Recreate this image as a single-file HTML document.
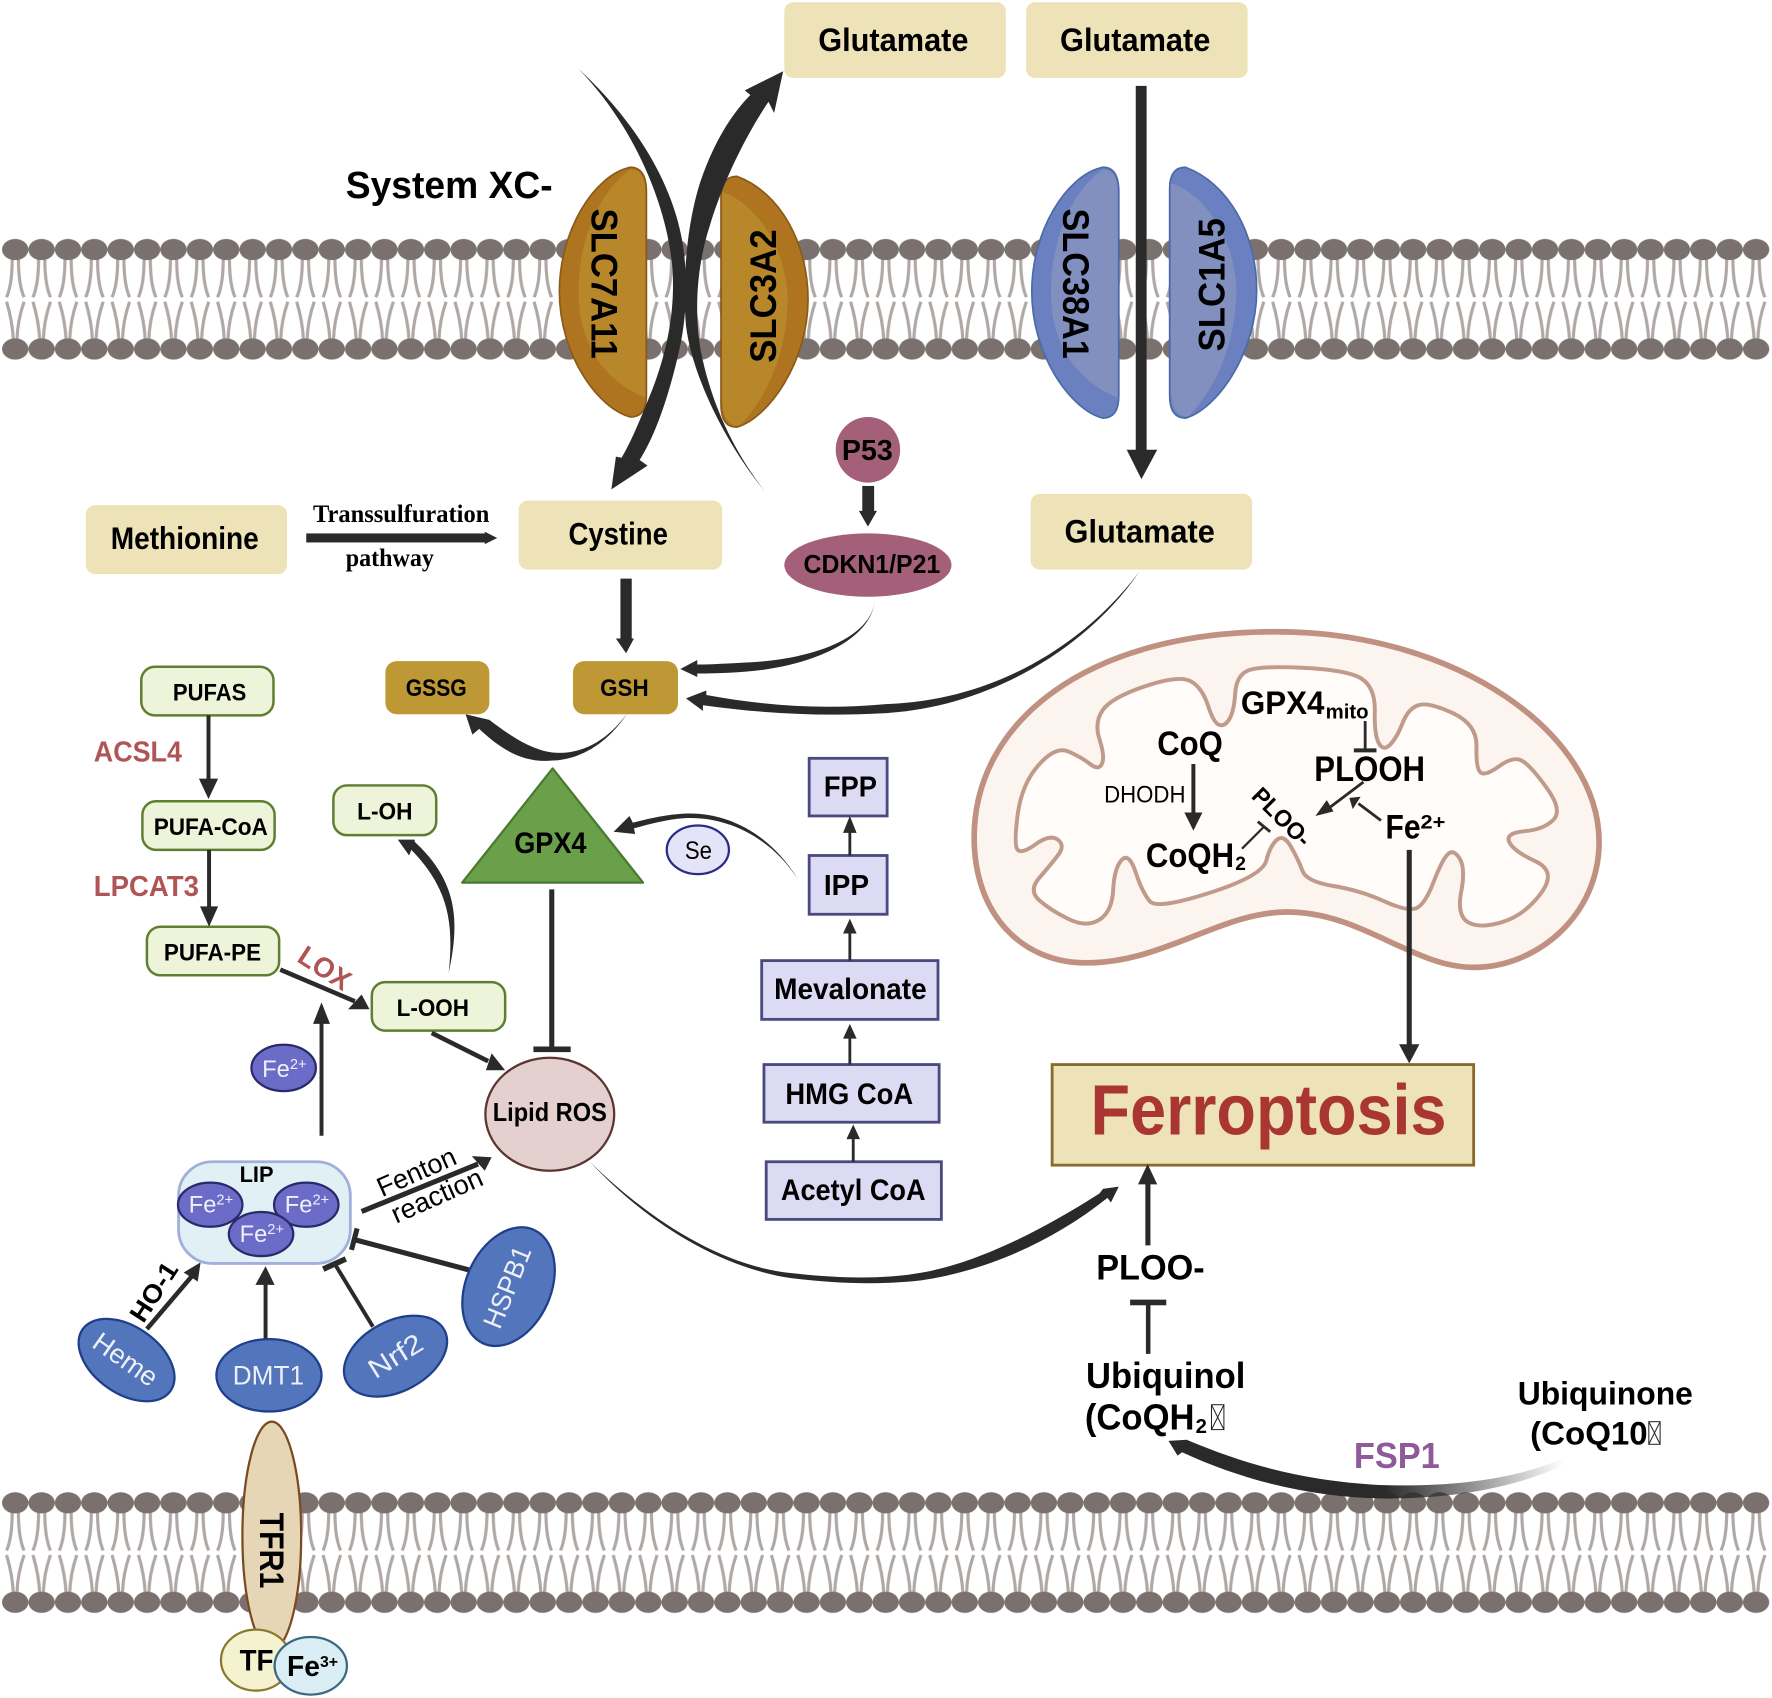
<!DOCTYPE html>
<html lang="en">
<head>
<meta charset="utf-8">
<title>Ferroptosis pathway</title>
<style>
html,body{margin:0;padding:0;background:#fff;}
svg{display:block;}
text{font-family:"Liberation Sans",sans-serif;fill:#000;}
.b{font-weight:bold;}
.s{font-family:"Liberation Serif",serif;font-weight:bold;}
.w{fill:#eef0f8;}
</style>
</head>
<body>
<svg xmlns="http://www.w3.org/2000/svg" width="1772" height="1698" viewBox="0 0 1568 1502.5">
<defs>
<pattern id="mem" x="1.8" y="205" width="23.34" height="120" patternUnits="userSpaceOnUse">
  <g fill="none" stroke="#afa8a5" stroke-width="2.8">
    <path d="M9,24 C9,38 7.5,50 4,58"/>
    <path d="M14.5,24 C14.5,38 16,50 19.5,58"/>
    <path d="M4,62 C7,72 9.5,84 10,96"/>
    <path d="M19.5,62 C16,72 13.5,84 13.2,96"/>
  </g>
  <ellipse cx="11.67" cy="15.8" rx="11.67" ry="9.4" fill="#7a716e"/>
  <ellipse cx="11.67" cy="103.8" rx="11.67" ry="9.4" fill="#7a716e"/>
</pattern>
<linearGradient id="fade" gradientUnits="userSpaceOnUse" x1="1225" y1="0" x2="1384" y2="0">
  <stop offset="0" stop-color="#2a2a2a"/>
  <stop offset="1" stop-color="#2a2a2a" stop-opacity="0"/>
</linearGradient>
</defs>

<!-- membranes -->
<rect x="1.8" y="205" width="1563.8" height="120" fill="url(#mem)"/>
<g transform="translate(0,1109)"><rect x="1.8" y="205" width="1563.8" height="120" fill="url(#mem)"/></g>

<!-- top boxes -->
<g fill="#eee2b8">
<rect x="694" y="2" width="196" height="67" rx="8"/>
<rect x="908" y="2" width="196" height="67" rx="8"/>
<rect x="76" y="447" width="178" height="61" rx="8"/>
<rect x="459" y="443" width="180" height="61" rx="8"/>
<rect x="912" y="437" width="196" height="67" rx="8"/>
</g>
<text class="b" x="724" y="45" font-size="29" textLength="133" lengthAdjust="spacingAndGlyphs">Glutamate</text>
<text class="b" x="938" y="45" font-size="29" textLength="133" lengthAdjust="spacingAndGlyphs">Glutamate</text>
<text class="b" x="942" y="480" font-size="29" textLength="133" lengthAdjust="spacingAndGlyphs">Glutamate</text>
<text class="b" x="98" y="486" font-size="28" textLength="131" lengthAdjust="spacingAndGlyphs">Methionine</text>
<text class="b" x="503" y="482" font-size="28" textLength="88" lengthAdjust="spacingAndGlyphs">Cystine</text>
<text class="b" x="306" y="175" font-size="34" textLength="183" lengthAdjust="spacingAndGlyphs">System XC-</text>

<!-- orange transporters -->
<path d="M572,170 Q572,148 558,148 C525,155 495,205 495,258 C495,315 530,362 558,369 Q572,369 572,350 Z" fill="#ae7420" stroke="#8a5a1a" stroke-width="1.5"/>
<path d="M571,170 Q571,150 558,150 C535,165 512,205 512,258 C512,300 530,335 571,352 Z" fill="#b8872a"/>
<path d="M638,175 Q638,156 652,156 C690,170 715,215 715,265 C715,320 680,370 652,378 Q638,378 638,358 Z" fill="#ae7420" stroke="#8a5a1a" stroke-width="1.5"/>
<path d="M639,170 C670,180 695,220 697,262 C697,310 680,350 655,376 C645,378 639,370 639,350 Z" fill="#b8872a"/>
<!-- blue transporters -->
<path d="M990,170 Q990,148 976,148 C943,155 913,205 913,258 C913,315 948,363 976,370 Q990,370 990,350 Z" fill="#6b80c0" stroke="#4a6aa8" stroke-width="1.5"/>
<path d="M989,170 Q989,150 976,150 C953,165 930,205 930,258 C930,300 948,335 989,352 Z" fill="#8290c0"/>
<path d="M1035,167 Q1035,148 1049,148 C1087,162 1112,207 1112,257 C1112,312 1077,362 1049,370 Q1035,370 1035,350 Z" fill="#6b80c0" stroke="#4a6aa8" stroke-width="1.5"/>
<path d="M1036,162 C1067,172 1092,212 1094,254 C1094,302 1077,342 1052,368 C1042,370 1036,362 1036,342 Z" fill="#8290c0"/>

<text class="b" transform="translate(535,251) rotate(90)" y="11.5" text-anchor="middle" font-size="33" textLength="133" lengthAdjust="spacingAndGlyphs">SLC7A11</text>
<text class="b" transform="translate(675,262) rotate(-90)" y="11.5" text-anchor="middle" font-size="33" textLength="118" lengthAdjust="spacingAndGlyphs">SLC3A2</text>
<text class="b" transform="translate(952,251) rotate(90)" y="11.5" text-anchor="middle" font-size="33" textLength="133" lengthAdjust="spacingAndGlyphs">SLC38A1</text>
<text class="b" transform="translate(1072,252) rotate(-90)" y="11.5" text-anchor="middle" font-size="33" textLength="118" lengthAdjust="spacingAndGlyphs">SLC1A5</text>

<!-- crossing arrows -->
<g fill="#2a2a2a">
<path d="M512,61 C560,110 590,180 595,237 C598,280 588,320 573,355 C563,380 556,395 550,405 L545,404 L541,433 L573,412 L566,407 C580,385 592,350 601,310 C609,275 608,240 604,215 C595,160 560,105 512,61 Z"/>
<path d="M677,435 C640,390 612,330 607,288 C603,240 610,190 620,160 C632,125 648,100 664,84 L659,80 L693,63 L685,100 L680,90 C660,120 640,160 628,200 C615,240 615,280 620,310 C630,360 650,400 677,435 Z"/>
<rect x="1005" y="76" width="9.6" height="323"/>
<polygon points="997,398 1024,398 1010,424"/>
<!-- transsulfuration -->
<rect x="271" y="472" width="159" height="8"/>
<polygon points="429,470.5 440,476 429,481.5"/>
<!-- p53 arrow -->
<rect x="763" y="430" width="10.5" height="23"/>
<polygon points="760,452 776,452 768,466"/>
<!-- cystine to GSH -->
<rect x="549" y="512" width="10" height="54"/>
<polygon points="545,565 561,565 554,578"/>
<!-- to GSH curves -->
<path d="M774,531 C772,560 730,582 665,586 C645,587 630,588 617,588 L617,584 L602,592 L617,599 L617,596 C640,596 660,595 680,592 C735,583 772,560 774,531 Z"/>
<path d="M1008,506 C960,570 880,620 784,623 C730,628 680,625 625,615 L625,611 L607,618 L622,629 L622,624 C680,632 730,634 784,631 C880,625 965,570 1008,506 Z"/>
<path d="M555,631 C538,655 515,668 490,666 C470,664 450,650 433,637 L412,632 L418,650 L424,645 C445,665 465,675 487,673 C515,673 540,655 555,631 Z"/>
<!-- IPP to GPX4 -->
<path d="M706,778 C680,735 640,718 605,720 C590,721 575,724 560,728 L557,722 L543,736 L562,738 L561,733 C575,729 590,725 605,724 C640,722 680,738 706,778 Z"/>
<!-- L-OOH to L-OH -->
<path d="M397,861 C407,815 405,780 367,745 L367,743 L352,743 L362,757 L364,752 C396,785 402,815 397,861 Z"/>
<!-- Lipid ROS to ferroptosis -->
<path d="M522,1028 C575,1080 640,1122 705,1127 C740,1131 780,1132 810,1127 C860,1120 920,1090 973,1056 L976,1052 L990,1050 L983,1064 L980,1060 C930,1100 870,1125 815,1133 C780,1137 740,1136 700,1131 C640,1122 575,1085 522,1028 Z"/>
</g>

<!-- P53 / CDKN1 -->
<ellipse cx="768" cy="398" rx="28.5" ry="29" fill="#a36078"/>
<text class="b" x="745" y="407" font-size="25" textLength="45" lengthAdjust="spacingAndGlyphs">P53</text>
<ellipse cx="768" cy="500" rx="74" ry="28" fill="#a36078"/>
<text class="b" x="711" y="507" font-size="23" textLength="121" lengthAdjust="spacingAndGlyphs">CDKN1/P21</text>

<!-- Transsulfuration labels -->
<text class="s" x="277" y="462" font-size="22" textLength="156" lengthAdjust="spacingAndGlyphs">Transsulfuration</text>
<text class="s" x="306" y="501" font-size="22" textLength="78" lengthAdjust="spacingAndGlyphs">pathway</text>

<!-- GSSG / GSH -->
<rect x="341" y="585" width="92" height="47" rx="10" fill="#be9835"/>
<rect x="507" y="585" width="93" height="47" rx="10" fill="#be9835"/>
<text class="b" x="359" y="616" font-size="21" textLength="54" lengthAdjust="spacingAndGlyphs">GSSG</text>
<text class="b" x="531" y="616" font-size="21" textLength="43" lengthAdjust="spacingAndGlyphs">GSH</text>

<!-- GPX4 -->
<polygon points="489,680 409,781 569,781" fill="#6aa04a" stroke="#4a7a30" stroke-width="2" stroke-linejoin="round"/>
<text class="b" x="455" y="755" font-size="26" textLength="64" lengthAdjust="spacingAndGlyphs">GPX4</text>
<rect x="486" y="787" width="4.5" height="141" fill="#2a2a2a"/>
<rect x="472" y="926" width="33" height="5" fill="#2a2a2a"/>

<!-- Lipid ROS -->
<ellipse cx="486.5" cy="986" rx="57" ry="50" fill="#e3d0cf" stroke="#5c3530" stroke-width="2"/>
<text class="b" x="436" y="992" font-size="23" textLength="101" lengthAdjust="spacingAndGlyphs">Lipid ROS</text>

<!-- Se -->
<ellipse cx="617.5" cy="752" rx="27.5" ry="21.5" fill="#e5e3f8" stroke="#2a2a88" stroke-width="2"/>
<text x="606" y="760" font-size="22" textLength="24" lengthAdjust="spacingAndGlyphs" fill="#222">Se</text>

<!-- mevalonate pathway -->
<g fill="#dddbf3" stroke="#4a4a80" stroke-width="2.5">
<rect x="716" y="671" width="69" height="51"/>
<rect x="716" y="757" width="69" height="52"/>
<rect x="674" y="850" width="156" height="52"/>
<rect x="676" y="942" width="155" height="51"/>
<rect x="678" y="1028" width="155" height="51"/>
</g>
<text class="b" x="729" y="705" font-size="25" textLength="47" lengthAdjust="spacingAndGlyphs">FPP</text>
<text class="b" x="729" y="792" font-size="25" textLength="40" lengthAdjust="spacingAndGlyphs">IPP</text>
<text class="b" x="685" y="884" font-size="26" textLength="135" lengthAdjust="spacingAndGlyphs">Mevalonate</text>
<text class="b" x="695" y="977" font-size="26" textLength="113" lengthAdjust="spacingAndGlyphs">HMG CoA</text>
<text class="b" x="691" y="1062" font-size="26" textLength="128" lengthAdjust="spacingAndGlyphs">Acetyl CoA</text>
<g stroke="#2a2a2a" stroke-width="2.5">
<line x1="752" y1="757" x2="752" y2="736"/>
<line x1="752" y1="850" x2="752" y2="825"/>
<line x1="752" y1="942" x2="752" y2="918"/>
<line x1="755" y1="1028" x2="755" y2="1007"/>
</g>
<g fill="#2a2a2a">
<polygon points="752,722 746,737 758,737"/>
<polygon points="752,813 746,826 758,826"/>
<polygon points="752,906 746,919 758,919"/>
<polygon points="755,995 749,1008 761,1008"/>
</g>

<!-- PUFA chain -->
<g fill="#edf4da" stroke="#5f7f30" stroke-width="2.2">
<rect x="125" y="590" width="117" height="43" rx="12"/>
<rect x="126" y="709" width="117" height="43" rx="12"/>
<rect x="130" y="820" width="117" height="43" rx="12"/>
<rect x="295" y="695" width="91" height="44" rx="12"/>
<rect x="329" y="869" width="118" height="43" rx="12"/>
</g>
<text class="b" x="153" y="620" font-size="21" textLength="65" lengthAdjust="spacingAndGlyphs">PUFAS</text>
<text class="b" x="136" y="739" font-size="21" textLength="101" lengthAdjust="spacingAndGlyphs">PUFA-CoA</text>
<text class="b" x="145" y="850" font-size="21" textLength="86" lengthAdjust="spacingAndGlyphs">PUFA-PE</text>
<text class="b" x="316" y="725" font-size="21" textLength="49" lengthAdjust="spacingAndGlyphs">L-OH</text>
<text class="b" x="351" y="899" font-size="21" textLength="64" lengthAdjust="spacingAndGlyphs">L-OOH</text>
<text class="b" x="83" y="674" font-size="25" textLength="78" lengthAdjust="spacingAndGlyphs" style="fill:#b05555">ACSL4</text>
<text class="b" x="83" y="793" font-size="25" textLength="93" lengthAdjust="spacingAndGlyphs" style="fill:#b05555">LPCAT3</text>
<text class="b" transform="translate(287,857) rotate(33)" y="8" text-anchor="middle" font-size="25" textLength="50" lengthAdjust="spacingAndGlyphs" style="fill:#b05555">LOX</text>

<g stroke="#2a2a2a" stroke-width="3.5" fill="none">
<line x1="184.5" y1="633" x2="184.5" y2="692"/>
<line x1="185" y1="752" x2="185" y2="805"/>
<line x1="248" y1="858" x2="314" y2="886" stroke-width="4"/>
<line x1="382" y1="914" x2="432" y2="939" stroke-width="4"/>
<line x1="284.5" y1="1005" x2="284.5" y2="905"/>
<line x1="320" y1="1072" x2="423" y2="1030" stroke-width="4.5"/>
<line x1="130" y1="1176" x2="170" y2="1129" stroke-width="4"/>
<line x1="235" y1="1185" x2="235" y2="1135"/>
<line x1="330" y1="1174" x2="296" y2="1118"/>
<line x1="286" y1="1123" x2="306" y2="1114" stroke-width="5"/>
<line x1="416" y1="1124" x2="314" y2="1097" stroke-width="4.5"/>
<line x1="311" y1="1106" x2="316" y2="1087" stroke-width="4.5"/>
</g>
<g fill="#2a2a2a">
<polygon points="176,689 193,689 184.5,707"/>
<polygon points="177,802 193,802 185,820"/>
<polygon points="327,893 320,880 308,893"/>
<polygon points="447,947 435,932 430,947"/>
<polygon points="284.5,887 277,906 292,906"/>
<polygon points="435,1024 417.5,1023 429,1036"/>
<polygon points="177.5,1117 162.5,1126 175,1134"/>
<polygon points="235,1120.5 226,1137 243,1137"/>
</g>

<!-- Fe2+ free -->
<ellipse cx="251" cy="945" rx="28.5" ry="20.5" fill="#6b6bc8" stroke="#2a2a6a" stroke-width="2"/>
<text class="w" x="232" y="953" font-size="21" style="fill:#eef0f8">Fe<tspan dy="-7" font-size="13">2+</tspan></text>

<!-- LIP -->
<rect x="158" y="1028" width="152" height="90" rx="30" fill="#e1f0f5" stroke="#a0b0da" stroke-width="2.5"/>
<text class="b" x="212" y="1046" font-size="20" textLength="30" lengthAdjust="spacingAndGlyphs">LIP</text>
<g fill="#6b6bc8" stroke="#2a2a6a" stroke-width="2">
<ellipse cx="186" cy="1066" rx="28.5" ry="19.5"/>
<ellipse cx="271" cy="1066" rx="28.5" ry="19.5"/>
<ellipse cx="231" cy="1092" rx="28.5" ry="19.5"/>
</g>
<text x="167" y="1073" font-size="21" style="fill:#eef0f8">Fe<tspan dy="-7" font-size="13">2+</tspan></text>
<text x="252" y="1073" font-size="21" style="fill:#eef0f8">Fe<tspan dy="-7" font-size="13">2+</tspan></text>
<text x="212" y="1099" font-size="21" style="fill:#eef0f8">Fe<tspan dy="-7" font-size="13">2+</tspan></text>

<text transform="translate(369,1038) rotate(-24)" text-anchor="middle" y="7" font-size="24" textLength="74" lengthAdjust="spacingAndGlyphs">Fenton</text>
<text transform="translate(387,1059) rotate(-24)" text-anchor="middle" y="7" font-size="24" textLength="86" lengthAdjust="spacingAndGlyphs">reaction</text>
<text class="b" transform="translate(136,1143) rotate(-57)" text-anchor="middle" y="8" font-size="23" textLength="58" lengthAdjust="spacingAndGlyphs">HO-1</text>

<!-- blue ovals -->
<g fill="#5275bc" stroke="#1f3f8a" stroke-width="2">
<ellipse cx="0" cy="0" rx="47.5" ry="29.5" transform="translate(112,1203.5) rotate(35)"/>
<ellipse cx="238" cy="1217" rx="46.5" ry="32"/>
<ellipse cx="0" cy="0" rx="49" ry="31" transform="translate(350,1200) rotate(-28)"/>
<ellipse cx="0" cy="0" rx="55" ry="37.5" transform="translate(450,1138.5) rotate(-66)"/>
</g>
<text transform="translate(111,1203) rotate(35)" text-anchor="middle" y="8" font-size="24" textLength="64" lengthAdjust="spacingAndGlyphs" style="fill:#eef0f8">Heme</text>
<text x="206" y="1225" font-size="24" textLength="63" lengthAdjust="spacingAndGlyphs" style="fill:#eef0f8">DMT1</text>
<text transform="translate(350,1200) rotate(-32)" text-anchor="middle" y="8" font-size="24" textLength="52" lengthAdjust="spacingAndGlyphs" style="fill:#eef0f8">Nrf2</text>
<text transform="translate(449,1139) rotate(-68)" text-anchor="middle" y="8" font-size="24" textLength="76" lengthAdjust="spacingAndGlyphs" style="fill:#eef0f8">HSPB1</text>

<!-- TFR1 -->
<ellipse cx="240.5" cy="1359" rx="26" ry="101" fill="#e6d6b5" stroke="#7a4a20" stroke-width="2"/>
<text class="b" transform="translate(241,1372) rotate(90)" text-anchor="middle" y="11" font-size="30" textLength="67" lengthAdjust="spacingAndGlyphs">TFR1</text>
<ellipse cx="226.5" cy="1469" rx="31" ry="27" fill="#f5f2d0" stroke="#8a7a30" stroke-width="2"/>
<text class="b" x="212" y="1478" font-size="26" textLength="30" lengthAdjust="spacingAndGlyphs">TF</text>
<ellipse cx="275" cy="1474" rx="32" ry="25.5" fill="#dceef5" stroke="#3a6a80" stroke-width="2"/>
<text class="b" x="254" y="1483" font-size="25">Fe<tspan dy="-8" font-size="14">3+</tspan></text>

<!-- mitochondrion -->
<path d="M862,741 C862,640 960,559 1129,559 C1290,559 1415,650 1415,745 C1415,810 1360,856 1304,856 C1250,856 1205,807 1139,807 C1080,807 1030,852 961,852 C905,852 862,810 862,741 Z" fill="#fbf4ef" stroke="#c09080" stroke-width="5"/>
<path d="M900.5,752 Q897,748 900.5,721 Q904,694 919,677 Q934,660 945.5,665 Q957,670 964.5,676 Q972,682 975,676 Q978,670 973,654.5 Q968,639 976,628 Q984,617 1014,607 Q1044,597 1054,603 Q1064,609 1069,624.5 Q1074,640 1079,641.5 Q1084,643 1088,636 Q1092,629 1093,613.5 Q1094,598 1104,593.5 Q1114,589 1154,591 Q1194,593 1205.5,601 Q1217,609 1216.5,629.5 Q1216,650 1220,657.5 Q1224,665 1230,659 Q1236,653 1241,640 Q1246,627 1255,624 Q1264,621 1285.5,631 Q1307,641 1306.5,660.5 Q1306,680 1310,683.5 Q1314,687 1326.5,678 Q1339,669 1346.5,673 Q1354,677 1368.5,697 Q1383,717 1374.5,725.5 Q1366,734 1349,735.5 Q1332,737 1335.5,745 Q1339,753 1358.5,762 Q1378,771 1363.5,790.5 Q1349,810 1329,816 Q1309,822 1299,816 Q1289,810 1293,789 Q1297,768 1291.5,759.5 Q1286,751 1281,756 Q1276,761 1268.5,780.5 Q1261,800 1253.5,803.5 Q1246,807 1225,797.5 Q1204,788 1180,784 Q1156,780 1152.5,770.5 Q1149,761 1142.5,749.5 Q1136,738 1130,743 Q1124,748 1120.5,761.5 Q1117,775 1070.5,790 Q1024,805 1017.5,797.5 Q1011,790 1005,772 Q999,754 992.5,761 Q986,768 985,787.5 Q984,807 972.5,814 Q961,821 945,813 Q929,805 919.5,796.5 Q910,788 919.5,777 Q929,766 936,757 Q943,748 936,743 Q929,738 916.5,747 Q904,756 900.5,752 Z" fill="#fffcfa" stroke="#c09a8a" stroke-width="3.5"/>

<text class="b" x="1098" y="632" font-size="29" textLength="74" lengthAdjust="spacingAndGlyphs">GPX4</text>
<text class="b" x="1173" y="636" font-size="18" textLength="38" lengthAdjust="spacingAndGlyphs">mito</text>
<text class="b" x="1163" y="691" font-size="31" textLength="98" lengthAdjust="spacingAndGlyphs">PLOOH</text>
<text class="b" x="1024" y="668" font-size="30" textLength="58" lengthAdjust="spacingAndGlyphs">CoQ</text>
<text x="977" y="710" font-size="21" textLength="72" lengthAdjust="spacingAndGlyphs" fill="#222">DHODH</text>
<text class="b" x="1014" y="767" font-size="30" textLength="78" lengthAdjust="spacingAndGlyphs">CoQH</text>
<text class="b" x="1093" y="770" font-size="17">2</text>
<text class="b" transform="translate(1134,723) rotate(45)" text-anchor="middle" y="7" font-size="21" textLength="64" lengthAdjust="spacingAndGlyphs">PLOO-</text>
<text class="b" x="1226" y="742" font-size="30" textLength="31" lengthAdjust="spacingAndGlyphs">Fe</text>
<text class="b" x="1257" y="733" font-size="17" textLength="22" lengthAdjust="spacingAndGlyphs">2+</text>

<g stroke="#2a2a2a" fill="none">
<line x1="1208" y1="638" x2="1208" y2="663" stroke-width="2.5"/>
<line x1="1198" y1="664" x2="1218" y2="664" stroke-width="3.5"/>
<line x1="1056" y1="676" x2="1056" y2="720" stroke-width="3.5"/>
<line x1="1099" y1="751" x2="1118" y2="732" stroke-width="2"/>
<line x1="1113" y1="727" x2="1124" y2="736" stroke-width="2.5"/>
<line x1="1206.5" y1="692" x2="1176" y2="715" stroke-width="2.5"/>
<line x1="1222" y1="726" x2="1202" y2="711" stroke-width="2.5"/>
<line x1="1247" y1="752" x2="1247" y2="926" stroke-width="4.5"/>
</g>
<g fill="#2a2a2a">
<polygon points="1056,735 1048,719 1064,719"/>
<polygon points="1164,722 1174,708 1180,718"/>
<polygon points="1194,706 1204,705 1197,716"/>
<polygon points="1247,941 1238,924 1256,924"/>
</g>

<!-- Ferroptosis -->
<rect x="931" y="942" width="373" height="89" fill="#eee2b8" stroke="#8a6a2a" stroke-width="2.5"/>
<text class="b" x="965" y="1004" font-size="63" textLength="315" lengthAdjust="spacingAndGlyphs" style="fill:#a93632">Ferroptosis</text>

<!-- lower right -->
<rect x="1013.5" y="1045" width="4.5" height="57" fill="#2a2a2a"/>
<polygon points="1015.5,1030 1007,1048 1024,1048" fill="#2a2a2a"/>
<text class="b" x="970" y="1132" font-size="31" textLength="96" lengthAdjust="spacingAndGlyphs">PLOO-</text>
<rect x="1014" y="1152" width="4" height="46" fill="#2a2a2a"/>
<rect x="1000" y="1150" width="32" height="5" fill="#2a2a2a"/>
<text class="b" x="961" y="1228" font-size="32" textLength="141" lengthAdjust="spacingAndGlyphs">Ubiquinol</text>
<text class="b" x="960" y="1265" font-size="32" textLength="97" lengthAdjust="spacingAndGlyphs">(CoQH</text>
<text class="b" x="1058" y="1268" font-size="18">2</text>
<g fill="none" stroke="#222" stroke-width="0.9">
<rect x="1072" y="1243" width="11" height="22"/>
<path d="M1072,1243 L1083,1265 M1083,1243 L1072,1265"/>
<rect x="1459" y="1258" width="10" height="20"/>
<path d="M1459,1258 L1469,1278 M1469,1258 L1459,1278"/>
</g>
<text class="b" x="1343" y="1243" font-size="29" textLength="155" lengthAdjust="spacingAndGlyphs">Ubiquinone</text>
<text class="b" x="1354" y="1278" font-size="29" textLength="104" lengthAdjust="spacingAndGlyphs">(CoQ10</text>
<text class="b" x="1198" y="1299" font-size="32" textLength="76" lengthAdjust="spacingAndGlyphs" style="fill:#8e5a9a">FSP1</text>
<path d="M1384,1290 C1340,1310 1280,1316 1220,1314 C1150,1310 1100,1295 1050,1274 L1034,1275 L1042,1288 L1046,1285 C1100,1310 1160,1325 1225,1326 C1290,1326 1345,1315 1384,1296 Z" fill="url(#fade)"/>
</svg>
</body>
</html>
